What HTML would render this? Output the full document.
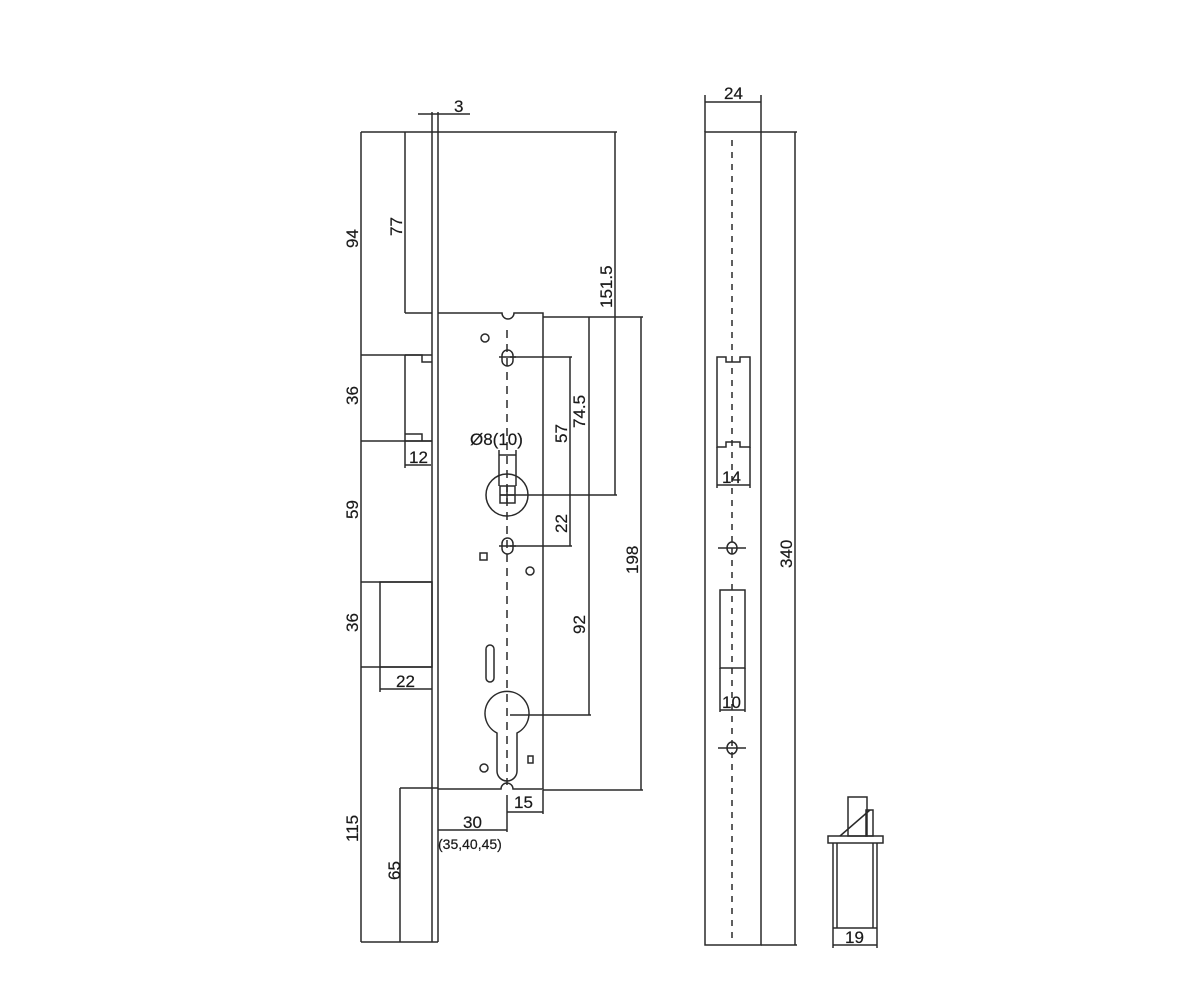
<!DOCTYPE html>
<html><head><meta charset="utf-8"><style>
html,body{margin:0;padding:0;background:#fff;}
svg{display:block;}
text{font-family:"Liberation Sans",sans-serif;font-size:17px;fill:#1a1a1a;stroke:#1a1a1a;stroke-width:0.2;}
</style></head><body>
<svg width="1200" height="1000" viewBox="0 0 1200 1000" xmlns="http://www.w3.org/2000/svg">
<g stroke="#2a2a2a" stroke-width="1.5" fill="none">
<line x1="432" y1="112" x2="432" y2="942"/>
<line x1="438" y1="112" x2="438" y2="942"/>
<line x1="418" y1="114" x2="470" y2="114"/>
<line x1="361" y1="942" x2="438" y2="942"/>
<line x1="361" y1="132" x2="617" y2="132"/>
<line x1="615" y1="132" x2="615" y2="495"/>
<line x1="500" y1="495" x2="617" y2="495"/>
<line x1="361" y1="132" x2="361" y2="942"/>
<line x1="361" y1="355" x2="432" y2="355"/>
<line x1="361" y1="441" x2="432" y2="441"/>
<line x1="361" y1="582" x2="432" y2="582"/>
<line x1="361" y1="667" x2="432" y2="667"/>
<line x1="405" y1="132" x2="405" y2="313"/>
<line x1="405" y1="313" x2="432" y2="313"/>
<path d="M438 313 H502 A6 6 0 0 0 514 313 H543 V789 H513 A6 6 0 0 0 501 789 H438"/>
<path d="M405 355 V441 H432 M405 355 H422 V362 H432 M405 434 H422 V441"/>
<line x1="405" y1="441" x2="405" y2="468"/>
<line x1="405" y1="465" x2="431" y2="465"/>
<rect x="380" y="582" width="52" height="85"/>
<line x1="380" y1="667" x2="380" y2="692"/>
<line x1="380" y1="689" x2="432" y2="689"/>
<line x1="543" y1="317" x2="643" y2="317"/>
<line x1="641" y1="317" x2="641" y2="790"/>
<line x1="543" y1="790" x2="643" y2="790"/>
<line x1="589" y1="317" x2="589" y2="715"/>
<line x1="510" y1="715" x2="591" y2="715"/>
<line x1="510" y1="357" x2="572" y2="357"/>
<line x1="570" y1="357" x2="570" y2="546"/>
<line x1="510" y1="546" x2="572" y2="546"/>
<line x1="507" y1="330" x2="507" y2="785" stroke-dasharray="8,6"/>
<circle cx="507" cy="495" r="21"/>
<rect x="500" y="486" width="15" height="17"/>
<line x1="507" y1="486" x2="507" y2="503"/><line x1="500" y1="495" x2="515" y2="495"/>
<line x1="499" y1="450" x2="499" y2="486"/><line x1="516" y1="450" x2="516" y2="486"/>
<line x1="499" y1="455" x2="516" y2="455"/>
<circle cx="485" cy="338" r="4"/>
<rect x="502" y="350" width="11" height="16" rx="5.5"/>
<line x1="499" y1="357" x2="516" y2="357"/>
<rect x="502" y="538" width="11" height="16" rx="5.5"/>
<line x1="499" y1="546" x2="516" y2="546"/>
<rect x="480" y="553" width="7" height="7"/>
<circle cx="530" cy="571" r="4"/>
<rect x="486" y="645" width="8" height="37" rx="4"/>
<path d="M497 771 V733 A22 22 0 1 1 517 733 V771 A10 10 0 0 1 497 771 Z"/>
<circle cx="484" cy="768" r="4"/>
<rect x="528" y="756" width="5" height="7"/>
<line x1="400" y1="788" x2="438" y2="788"/>
<line x1="400" y1="788" x2="400" y2="942"/>
<line x1="507" y1="795" x2="507" y2="832"/>
<line x1="543" y1="790" x2="543" y2="814"/>
<line x1="507" y1="812" x2="543" y2="812"/>
<line x1="438" y1="830" x2="507" y2="830"/>
<rect x="705" y="132" width="56" height="813"/>
<line x1="705" y1="102" x2="761" y2="102"/>
<line x1="705" y1="95" x2="705" y2="132"/><line x1="761" y1="95" x2="761" y2="132"/>
<line x1="761" y1="132" x2="797" y2="132"/>
<line x1="795" y1="132" x2="795" y2="945"/>
<line x1="761" y1="945" x2="797" y2="945"/>
<line x1="732" y1="140" x2="732" y2="940" stroke-dasharray="6,6"/>
<path d="M717 357 H726 V362 H740 V357 H750 V447 H740 V442 H726 V447 H717 Z"/>
<line x1="717" y1="447" x2="717" y2="488"/><line x1="750" y1="447" x2="750" y2="488"/>
<line x1="717" y1="485" x2="750" y2="485"/>
<ellipse cx="732" cy="548" rx="5" ry="6"/><line x1="718" y1="548" x2="746" y2="548"/>
<rect x="720" y="590" width="25" height="78"/>
<line x1="720" y1="668" x2="720" y2="712"/><line x1="745" y1="668" x2="745" y2="712"/>
<line x1="720" y1="710" x2="745" y2="710"/>
<ellipse cx="732" cy="748" rx="5" ry="6"/><line x1="718" y1="748" x2="746" y2="748"/>
<rect x="828" y="836" width="55" height="7"/>
<line x1="833" y1="843" x2="833" y2="928"/><line x1="837" y1="843" x2="837" y2="928"/>
<line x1="873" y1="843" x2="873" y2="928"/><line x1="877" y1="843" x2="877" y2="928"/>
<line x1="833" y1="928" x2="877" y2="928"/>
<rect x="848" y="797" width="19" height="39"/>
<rect x="866" y="810" width="7" height="26"/>
<line x1="840" y1="836" x2="870" y2="810"/>
<line x1="833" y1="928" x2="833" y2="948"/><line x1="877" y1="928" x2="877" y2="948"/>
<line x1="833" y1="945" x2="877" y2="945"/>
</g>
<g>
<text x="454" y="112">3</text>
<text transform="translate(358,248) rotate(-90)">94</text>
<text transform="translate(402,236) rotate(-90)">77</text>
<text transform="translate(358,405) rotate(-90)">36</text>
<text transform="translate(358,519) rotate(-90)">59</text>
<text transform="translate(358,632) rotate(-90)">36</text>
<text transform="translate(358,842) rotate(-90)">115</text>
<text transform="translate(400,880) rotate(-90)">65</text>
<text x="409" y="463">12</text>
<text x="396" y="687">22</text>
<text x="470" y="445">Ø8(10)</text>
<text transform="translate(612,308) rotate(-90)">151.5</text>
<text transform="translate(585,428) rotate(-90)">74.5</text>
<text transform="translate(567,443) rotate(-90)">57</text>
<text transform="translate(567,533) rotate(-90)">22</text>
<text transform="translate(585,634) rotate(-90)">92</text>
<text transform="translate(638,574) rotate(-90)">198</text>
<text x="514" y="808">15</text>
<text x="463" y="828">30</text>
<text x="438" y="849" style="font-size:14px">(35,40,45)</text>
<text x="724" y="99">24</text>
<text transform="translate(792,568) rotate(-90)">340</text>
<text x="722" y="483">14</text>
<text x="722" y="708">10</text>
<text x="845" y="943">19</text>
</g>
</svg>
</body></html>
